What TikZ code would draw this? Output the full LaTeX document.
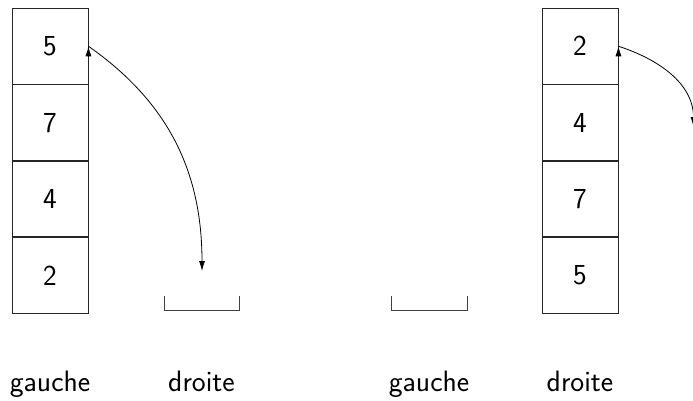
\documentclass[tikz,border=0pt]{standalone}
\usetikzlibrary{arrows.meta}
\begin{document}
\begin{tikzpicture}[x=1pt,y=-1pt,
  cell/.style={draw=black!85,line width=0.9pt,minimum width=76pt,minimum height=75.5pt,inner sep=0pt,
    font=\sffamily\fontsize{29}{34}\selectfont},
  lbl/.style={anchor=base,font=\sffamily\fontsize{29.5}{34}\selectfont},
  bucket/.style={draw=black!75,line width=0.9pt},
  tip/.style={-{Latex[length=10pt,width=6pt]}},
  conn/.style={line width=0.8pt}]
\clip (0,0) rectangle (693,400);
% left stack
\node[cell] (a1) at (50,46.25) {5};
\node[cell,anchor=north] (a2) at (a1.south) {7};
\node[cell,anchor=north] (a3) at (a2.south) {4};
\node[cell,anchor=north] (a4) at (a3.south) {2};
% left bucket
\coordinate (b1) at (201.5,310);
\draw[bucket] (164,296) -- (164,310.5) -- (239.5,310.5) -- (239.5,296);
% right bucket
\coordinate (b2) at (429,310);
\draw[bucket] (391,296) -- (391,310.5) -- (467,310.5) -- (467,296);
% right stack
\node[cell] (c1) at (580,46.25) {2};
\node[cell,anchor=north] (c2) at (c1.south) {4};
\node[cell,anchor=north] (c3) at (c2.south) {7};
\node[cell,anchor=north] (c4) at (c3.south) {5};
% labels
\node[lbl] (g1) at (50,391.5) {gauche};
\node[lbl] (d1) at (201.5,391.5) {droite};
\node[lbl] (g2) at (429,391.5) {gauche};
\node[lbl] (d2) at (580,391.5) {droite};
% arrows
\coordinate (e1) at (202,271);
\coordinate (e2) at (693.5,127);
\draw[conn,tip] (a1.east) to[out=-35,in=90] (e1);
\draw[conn,tip] ([yshift=-10pt]a1.east) -- (a1.east);
\draw[conn,tip] (c1.east) to[out=-18,in=90] (e2);
\draw[conn,tip] ([yshift=-10pt]c1.east) -- (c1.east);
\end{tikzpicture}
\end{document}
